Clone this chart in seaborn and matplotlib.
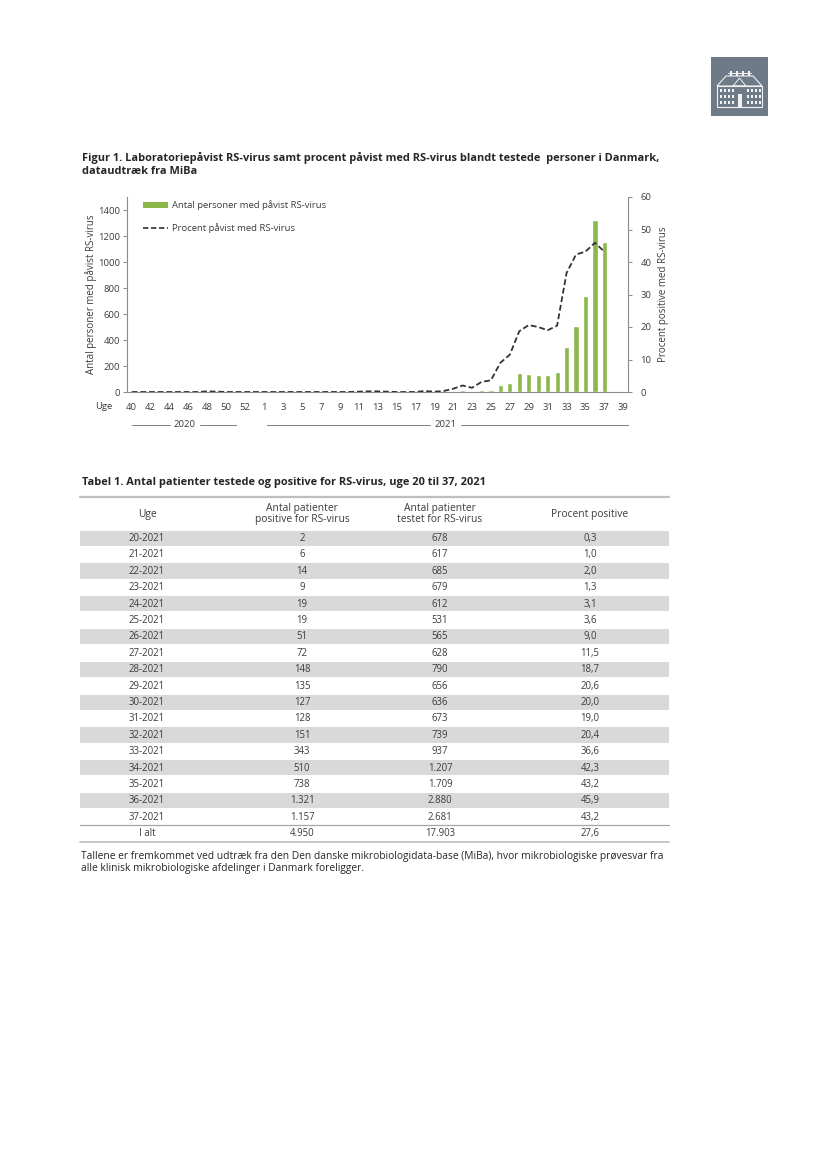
import numpy as np
import pandas as pd
import matplotlib
matplotlib.use("Agg")
import matplotlib.pyplot as plt
from matplotlib.patches import Rectangle, Polygon
from matplotlib.lines import Line2D
import matplotlib.transforms as mtransforms
import seaborn as sns

# ---------------- data ----------------
weeks = [str(w) for w in range(40, 54)] + [str(w) for w in range(1, 40)]
positives_2020 = [0, 0, 0, 0, 0, 0, 0, 0, 1, 0, 0, 0, 0, 0]
positives_2021 = [0, 0, 0, 0, 0, 0, 0, 0, 0, 0, 0, 1, 1, 0, 0, 0, 0, 1, 1,
                  2, 6, 14, 9, 19, 19, 51, 72, 148, 135, 127, 128, 151, 343,
                  510, 738, 1321, 1157, np.nan, np.nan]
percent_2020 = [0, 0, 0, 0, 0, 0, 0, 0, 0.2, 0.1, 0, 0, 0, 0]
percent_2021 = [0, 0, 0, 0, 0, 0, 0, 0, 0, 0, 0.1, 0.2, 0.2, 0.1, 0, 0, 0, 0.3, 0.1,
                0.3, 1.0, 2.0, 1.3, 3.1, 3.6, 9.0, 11.5, 18.7, 20.6, 20.0, 19.0,
                20.4, 36.6, 42.3, 43.2, 45.9, 43.2, np.nan, np.nan]

table_weeks = ["20-2021", "21-2021", "22-2021", "23-2021", "24-2021", "25-2021",
               "26-2021", "27-2021", "28-2021", "29-2021", "30-2021", "31-2021",
               "32-2021", "33-2021", "34-2021", "35-2021", "36-2021", "37-2021", "I alt"]
table_pos = ["2", "6", "14", "9", "19", "19", "51", "72", "148", "135", "127", "128",
             "151", "343", "510", "738", "1.321", "1.157", "4.950"]
table_tested = ["678", "617", "685", "679", "612", "531", "565", "628", "790", "656",
                "636", "673", "739", "937", "1.207", "1.709", "2.880", "2.681", "17.903"]
table_pct = ["0,3", "1,0", "2,0", "1,3", "3,1", "3,6", "9,0", "11,5", "18,7", "20,6",
             "20,0", "19,0", "20,4", "36,6", "42,3", "43,2", "45,9", "43,2", "27,6"]
table_headers = ["Uge", "Antal patienter\npositive for RS-virus",
                 "Antal patienter\ntestet for RS-virus", "Procent positive"]

df = pd.DataFrame({
    "week": weeks,
    "pos": np.arange(len(weeks)),
    "positives": positives_2020 + positives_2021,
    "percent": percent_2020 + percent_2021,
})

# ---------------- style ----------------
sns.set_style("white")
plt.rcParams["font.family"] = ["Open Sans", "DejaVu Sans"]
GREEN = "#8cb84a"
TXT = "#3c3c3c"
SPINE = "#8c8c8c"
FS_TICK = 6.8
FS_TAB = 6.9
FS_HEAD = 7.4

W, H = 827, 1169
fig = plt.figure(figsize=(W / 100, H / 100), dpi=100)

def fx(x):
    return x / W

def fy(y):
    return 1 - y / H

# page overlay axes in pixel coordinates
page = fig.add_axes([0, 0, 1, 1], zorder=0)
page.set_xlim(0, W)
page.set_ylim(H, 0)
page.axis("off")

# logo
page.add_patch(Rectangle((711, 57), 57, 59, facecolor="#6f7a88", edgecolor="none"))
lc = "#f2f2f2"
page.add_patch(Polygon([[717, 86], [726, 76], [753, 76], [762, 86]], closed=True,
                       facecolor="none", edgecolor=lc, lw=0.8))
page.add_patch(Polygon([[733, 86], [739.5, 78], [746, 86]], closed=True,
                       facecolor="none", edgecolor=lc, lw=0.7))
page.add_patch(Rectangle((717, 86), 45, 21, facecolor="none", edgecolor=lc, lw=0.8))
for xx in list(range(720, 733, 4)) + list(range(747, 760, 4)):
    for yy in (89, 95, 101):
        page.add_patch(Rectangle((xx, yy), 2.4, 3, facecolor=lc, edgecolor="none"))
page.add_patch(Rectangle((737.5, 94), 4, 13, facecolor=lc, edgecolor="none"))
for xx in (730, 736, 742, 748):
    page.add_patch(Rectangle((xx, 71), 2, 5, facecolor=lc, edgecolor="none"))
page.plot([728, 751], [73, 73], color=lc, lw=0.7)

# titles
page.text(82, 158, "Figur 1. Laboratoriepåvist RS-virus samt procent påvist med RS-virus blandt testede  personer i Danmark,",
          fontsize=7.95, fontweight="bold", color="#262626", va="center", ha="left")
page.text(82, 172, "dataudtræk fra MiBa", fontsize=7.95, fontweight="bold", color="#262626",
          va="center", ha="left")

# ---------------- chart ----------------
ax_left, ax_right = 127, 628
ax_top, ax_bot = 197, 392
ax = fig.add_axes([fx(ax_left), fy(ax_bot), (ax_right - ax_left) / W, (ax_bot - ax_top) / H], zorder=2)
ax.patch.set_alpha(0)

sns.barplot(data=df, x="week", y="positives", order=weeks, color=GREEN, width=0.55,
            saturation=1, ax=ax, label="Antal personer med påvist RS-virus", legend=False)
ax.set_xlim(-0.5, len(weeks) - 0.5)
ax.set_ylim(0, 1500)
ax.set_yticks(range(0, 1401, 200))

ax2 = ax.twinx()
sns.lineplot(data=df, x="pos", y="percent", ax=ax2, color="#333333", lw=1.3,
             linestyle=(0, (3.2, 1.6)), legend=False)
ax2.set_ylim(0, 60)
ax2.set_yticks(range(0, 61, 10))
ax2.set_xlim(-0.5, len(weeks) - 0.5)

# x ticks: labels at every second week, boundary tick marks
ax.set_xticks(range(0, len(weeks), 2))
ax.set_xticklabels([weeks[i] for i in range(0, len(weeks), 2)])
ax.set_xticks(np.arange(-0.5, len(weeks), 1.0), minor=True)
ax.tick_params(axis="x", which="major", length=0, pad=8, labelsize=FS_TICK, labelcolor=TXT)
ax.tick_params(axis="x", which="minor", length=4, direction="inout", color=SPINE, width=0.7)
ax.tick_params(axis="y", which="major", length=3, direction="out", color=SPINE, width=0.7,
               labelsize=FS_TICK, labelcolor=TXT, pad=2)
ax2.tick_params(axis="y", which="major", length=3, direction="out", color=SPINE, width=0.7,
                labelsize=FS_TICK, labelcolor=TXT, pad=6)
ax.set_xlabel("")
ax.set_ylabel("Antal personer med påvist RS-virus", fontsize=7.0, color=TXT, labelpad=1)
ax2.set_ylabel("Procent positive med RS-virus", fontsize=7.0, color=TXT, labelpad=5)
ax2.set_xlabel("")

for a in (ax, ax2):
    for s in a.spines.values():
        s.set_color(SPINE)
        s.set_linewidth(0.8)
    a.spines["top"].set_visible(False)
ax.spines["right"].set_visible(False)
ax2.spines["left"].set_visible(False)
ax2.spines["bottom"].set_visible(False)
ax.grid(False)
ax2.grid(False)

# "Uge" label and year brackets
trans = mtransforms.blended_transform_factory(ax.transData, ax.transAxes)
ax.text(-2.0, -0.075, "Uge", transform=trans, ha="right", va="center", fontsize=FS_TICK, color=TXT)
yb = -0.167
for (x0, x1, xm, lab) in [(0.0, 11.0, 5.6, "2020"), (14.3, 52.5, 33.2, "2021")]:
    ax.add_line(Line2D([x0, xm - 1.6], [yb, yb], transform=trans, color="#7f7f7f", lw=0.7, clip_on=False))
    ax.add_line(Line2D([xm + 1.6, x1], [yb, yb], transform=trans, color="#7f7f7f", lw=0.7, clip_on=False))
    ax.text(xm, yb, lab, transform=trans, ha="center", va="center", fontsize=FS_TICK, color=TXT)

# legend
handles = [Rectangle((0, 0), 1, 1, facecolor=GREEN, edgecolor="none"),
           Line2D([0], [0], color="#333333", lw=1.2, linestyle=(0, (3.2, 1.6)))]
leg = ax2.legend(handles, ["Antal personer med påvist RS-virus", "Procent påvist med RS-virus"],
                 loc="upper left", bbox_to_anchor=(0.015, 1.025), frameon=False, fontsize=FS_TICK,
                 handlelength=2.6, handleheight=0.5, labelspacing=1.3, handletextpad=0.5)
for t in leg.get_texts():
    t.set_color(TXT)

# ---------------- table ----------------
page.text(82, 483, "Tabel 1. Antal patienter testede og positive for RS-virus, uge 20 til 37, 2021",
          fontsize=7.95, fontweight="bold", color="#262626", va="center", ha="left")
tx0, tx1 = 80, 669
col_x = [147, 302, 440, 590]
page.plot([tx0, tx1], [497, 497], color="#bfbfbf", lw=1.6)
for cx, h in zip(col_x, table_headers):
    page.text(cx, 514, h, ha="center", va="center", fontsize=FS_HEAD, color=TXT, linespacing=1.1)
row_h = 16.4
y0 = 530
for i, cells in enumerate(zip(table_weeks, table_pos, table_tested, table_pct)):
    top = y0 + i * row_h
    if i < len(table_weeks) - 1 and i % 2 == 0:
        page.add_patch(Rectangle((tx0, top + 0.6), tx1 - tx0, row_h - 1.2,
                                 facecolor="#d9d9d9", edgecolor="none"))
    for cx, c in zip(col_x, cells):
        page.text(cx, top + row_h / 2 + 0.3, c, ha="center", va="center", fontsize=FS_TAB, color=TXT)
last_top = y0 + (len(table_weeks) - 1) * row_h
page.plot([tx0, tx1], [last_top, last_top], color="#a6a6a6", lw=0.9)
page.plot([tx0, tx1], [last_top + row_h, last_top + row_h], color="#bfbfbf", lw=1.2)

page.text(81, 856, "Tallene er fremkommet ved udtræk fra den Den danske mikrobiologidata-base (MiBa), hvor mikrobiologiske prøvesvar fra",
          fontsize=7.35, color="#262626", va="center", ha="left")
page.text(81, 869, "alle klinisk mikrobiologiske afdelinger i Danmark foreligger.",
          fontsize=7.35, color="#262626", va="center", ha="left")

fig.savefig("out.png", dpi=100)
